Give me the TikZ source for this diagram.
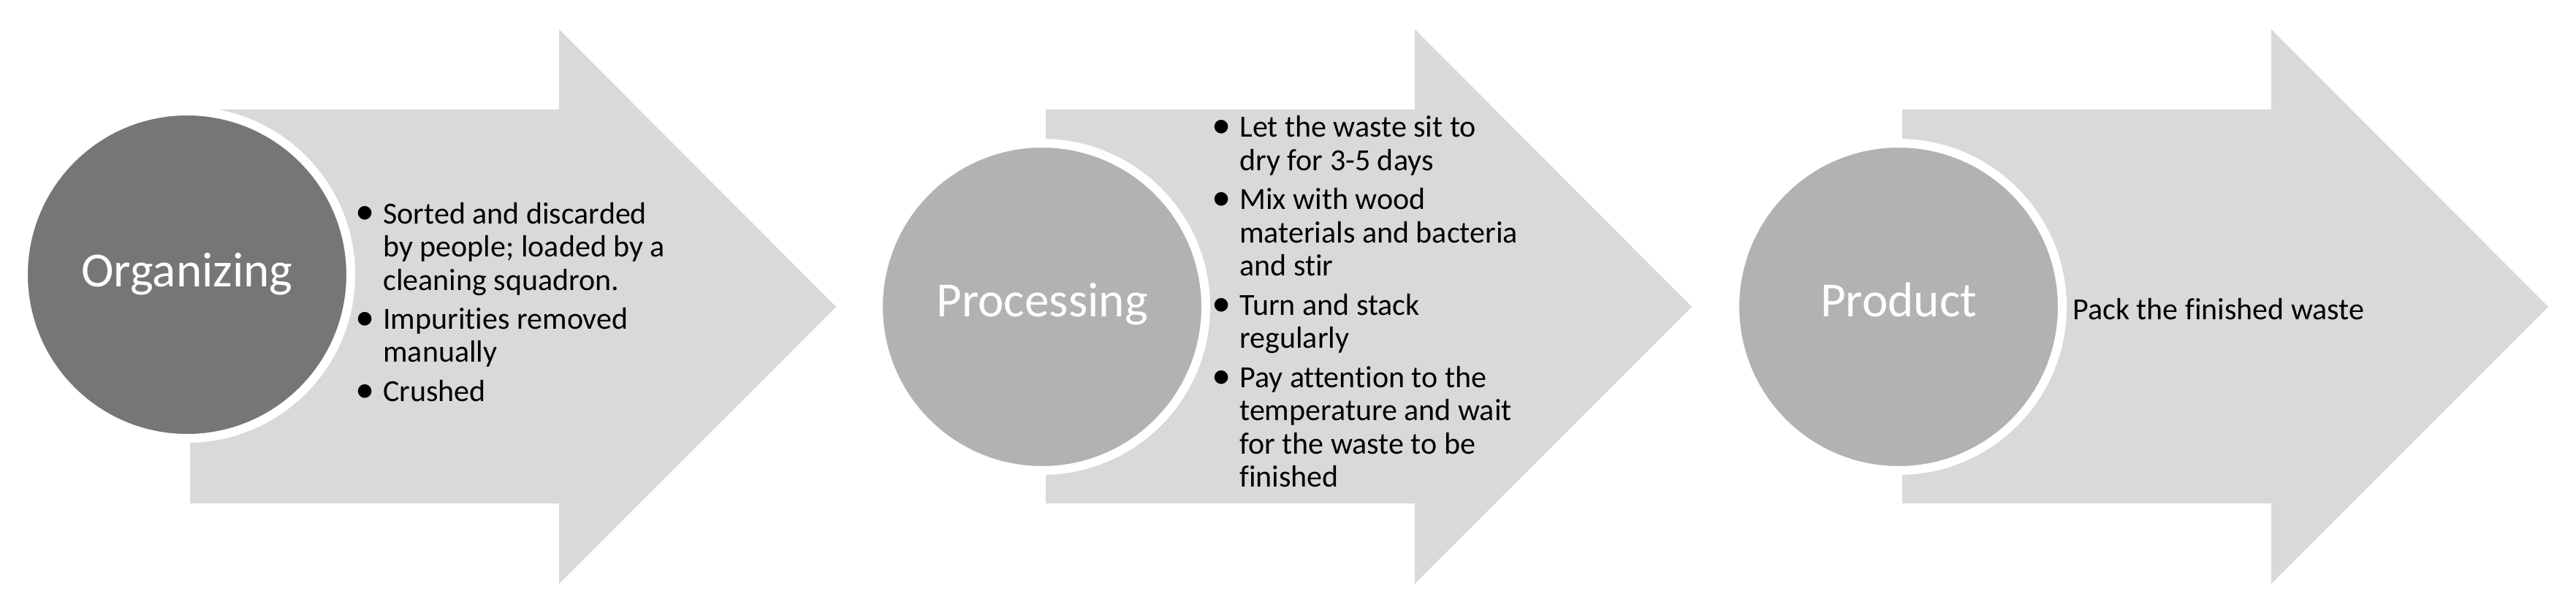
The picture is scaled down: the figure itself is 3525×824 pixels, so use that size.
\documentclass[tikz,border=0pt]{standalone}
\usepackage{fontspec}
\setmainfont{Carlito}[Ligatures={NoCommon,NoContextual}]
\definecolor{arrowgray}{HTML}{D9D9D9}
\definecolor{darkcirc}{HTML}{767676}
\definecolor{midcirc}{HTML}{B2B2B2}
\newcommand\bitem[1]{\hbox{\makebox[19pt][l]{\raisebox{-0.5pt}{\scalebox{1.25}{•}}}#1}}
\newcommand\bcont[1]{\hbox{\hspace*{19pt}#1}}
\newcommand\igap{\vskip4pt}
\tikzset{
  bigarrow/.style={fill=arrowgray, draw=none},
  ringcirc/.style={circle, draw=white, line width=6pt, minimum size=224pt, inner sep=0pt},
  titletext/.style={text=white, font=\fontsize{33.6}{40}\selectfont, inner sep=0pt, anchor=base},
  bodytext/.style={text=black, font=\fontsize{21}{22.75}\selectfont, inner sep=0pt, anchor=base west},
}
\begin{document}
\begin{tikzpicture}[x=0.5pt, y=-0.5pt]
\useasboundingbox (0,0) rectangle (3525,824);
% arrows
\foreach \L in {260,1431,2603}{
  \fill[bigarrow] (\L,150) -- ++(505,0) -- ++(0,-110) -- ++(379,380) -- ++(-379,379) -- ++(0,-110) -- ++(-505,0) -- cycle;
}
% circles
\node[ringcirc, fill=darkcirc] (c1) at (256,376) {};
\node[ringcirc, fill=midcirc] (c2) at (1426,420) {};
\node[ringcirc, fill=midcirc] (c3) at (2598,420) {};
% titles
\node[titletext] (t1) at (256,392) {Organizing};
\node[titletext] (t2) at (1426,433) {Processing};
\node[titletext] (t3) at (2598,433) {Product};
% body texts
\node[bodytext] (b1) at (486,306) {\vtop{%
  \bitem{Sorted and discarded}\bcont{by people; loaded by a}\bcont{cleaning squadron.}\igap
  \bitem{Impurities removed}\bcont{manually}\igap
  \bitem{Crushed}}};
\node[bodytext] (b2) at (1658,188) {\vtop{%
  \bitem{Let the waste sit to}\bcont{dry for 3-5 days}\igap
  \bitem{Mix with wood}\bcont{materials and bacteria}\bcont{and stir}\igap
  \bitem{Turn and stack}\bcont{regularly}\igap
  \bitem{Pay attention to the}\bcont{temperature and wait}\bcont{for the waste to be}\bcont{finished}}};
\node[bodytext] (b3) at (2836,437) {Pack the finished waste};
\end{tikzpicture}
\end{document}
